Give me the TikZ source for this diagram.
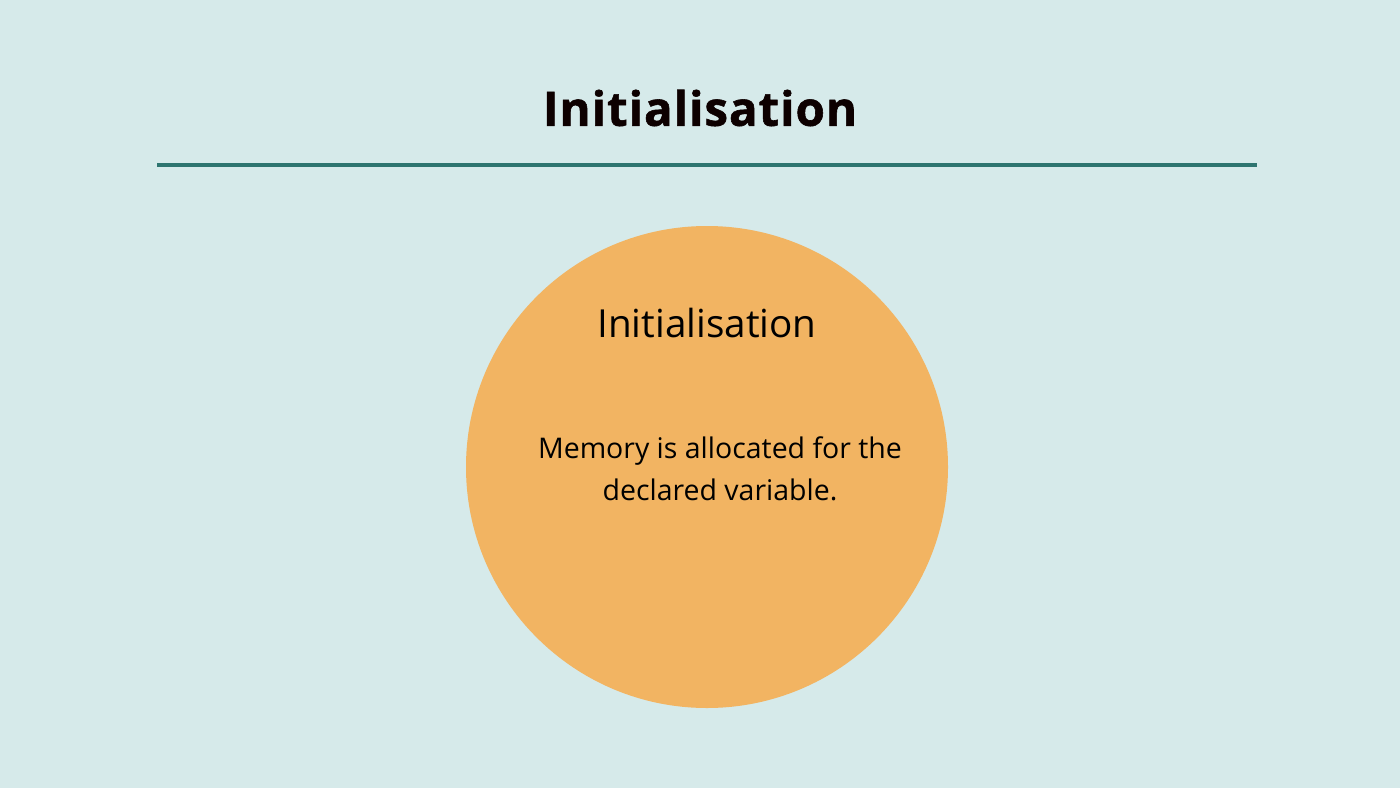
\documentclass[tikz,border=0pt]{standalone}
\usepackage{fontspec}
\setmainfont{Open Sans}
\newfontfamily\titlefont{Open Sans}[BoldFeatures={FakeBold=1.2}, LetterSpace=2]
\definecolor{bgblue}{HTML}{D6EAEA}
\definecolor{rulecol}{HTML}{2E7570}
\definecolor{ballcol}{HTML}{F2B462}
\tikzset{
  heading/.style={font=\titlefont\fontsize{27}{30}\selectfont\bfseries, text=black!95!red},
  ballhead/.style={font=\fontsize{22}{26}\selectfont},
  balltext/.style={font=\fontsize{16.2}{24}\selectfont, align=center}
}
\begin{document}
\begin{tikzpicture}[x=0.02cm,y=-0.02cm]
\fill[bgblue] (0,0) rectangle (1400,788);
\node[heading] (title) at (700,108) {Initialisation};
\coordinate (ruleL) at (157,165);
\coordinate (ruleR) at (1257,165);
\draw[rulecol,line width=2.3pt] (ruleL) -- (ruleR);
\fill[ballcol] (707,467) circle (241);
\node[ballhead] (stage) at (707,323) {Initialisation};
\node[balltext] (info) at (720,469) {Memory is allocated for the\\declared variable.};
\end{tikzpicture}
\end{document}
